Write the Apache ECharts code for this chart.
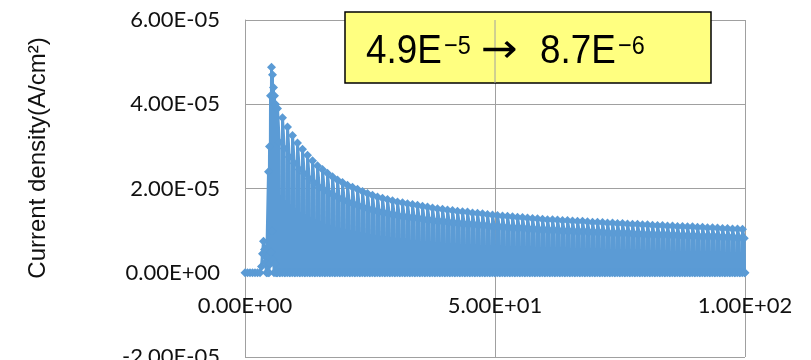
<!DOCTYPE html>
<html><head><meta charset="utf-8">
<script src="https://cdn.jsdelivr.net/npm/echarts@6/dist/echarts.min.js"></script>
<style>html,body{margin:0;padding:0;background:#fff}#c{width:811px;height:360px}</style>
</head><body><div id="c"></div>
<script>
// ---- data (current density values in units of 1e-6 A/cm2) ----
const xTicks = [0, 50, 100];
const yTicks = [-2e-5, 0, 2e-5, 4e-5, 6e-5];
const startTimes  = [0, 0.5, 1, 1.5, 2, 2.5, 3, 3.3, 3.5, 3.7, 3.9, 4.1, 4.3, 4.6, 4.7, 4.8, 4.9, 5.0, 5.1, 5.2, 5.3, 5.4, 5.5, 5.6, 5.7, 5.8, 5.9, 6.0, 6.1, 6.2, 6.3, 6.4];
const startValsE6 = [0, 0, 0, 0, 0, 0, 0, 1.5, 4.5, 7.5, 5.5, 2.5, 0, 0, 24, 0, 30, 2, 42, 5, 48.8, 10, 47, 3, 44, 0, 42, 2, 40, 0, 39, 0];
const cycleSeconds = [7,8,9,10,11,12,13,14,15,16,17,18,19,20,21,22,23,24,25,26,27,28,29,30,31,32,33,34,35,36,37,38,39,40,41,42,43,44,45,46,47,48,49,50,51,52,53,54,55,56,57,58,59,60,61,62,63,64,65,66,67,68,69,70,71,72,73,74,75,76,77,78,79,80,81,82,83,84,85,86,87,88,89,90,91,92,93,94,95,96,97,98,99,100];
const peakE6 = [39.0,36.8,34.6,32.6,30.8,29.3,27.9,26.6,25.4,
  24.5,23.6,22.8,22.0,21.4,20.8,20.3,19.8,19.3,18.8,
  18.4,18.0,17.7,17.4,17.1,16.8,16.6,16.4,16.2,16.0,
  15.8,15.6,15.4,15.2,15.1,14.9,14.8,14.6,14.5,14.4,
  14.2,14.1,14.0,13.8,13.7,13.6,13.5,13.4,13.3,13.2,
  13.1,13.0,12.9,12.8,12.7,12.6,12.6,12.5,12.4,12.4,
  12.3,12.2,12.2,12.1,12.0,12.0,11.9,11.8,11.8,11.7,
  11.7,11.6,11.5,11.5,11.4,11.4,11.3,11.2,11.2,11.1,
  11.1,11.0,11.0,10.9,10.9,10.8,10.8,10.7,10.7,10.6,
  10.5,10.5,10.4,10.4,10.3];
const lowE6 = [31.0,29.5,27.5,26.0,24.5,23.5,22.3,21.3,20.3,
  19.6,18.9,18.2,17.6,17.1,16.6,16.2,15.8,15.4,15.0,
  14.7,14.4,14.2,13.9,13.7,13.4,13.3,13.1,13.0,12.8,
  12.6,12.5,12.3,12.2,12.1,11.9,11.8,11.7,11.6,11.5,
  11.4,11.3,11.2,11.0,11.0,10.9,10.8,10.7,10.6,10.6,
  10.5,10.4,10.3,10.2,10.2,10.1,10.1,10.0,9.9,9.9,
  9.8,9.8,9.8,9.7,9.6,9.6,9.5,9.4,9.4,9.4,
  9.4,9.3,9.2,9.2,9.1,9.1,9.0,9.0,9.0,8.9,
  8.9,8.8,8.8,8.7,8.7,8.6,8.6,8.6,8.6,8.5,
  8.4,8.4,8.3,8.3,8.2];
const yAxisTitle = 'Current density(A/cm²)';
const annotation = ['4.9E', '\u22125', '\u2192', '8.7E', '\u22126'];

// ---- build series data ----
const data = [];
startTimes.forEach((t, i) => data.push([t, startValsE6[i] * 1e-6]));
cycleSeconds.forEach((s, i) => {
  data.push([s - 0.55, 0]);
  data.push([s - 0.5, peakE6[i] * 1e-6]);
  data.push([s - 0.15, lowE6[i] * 1e-6]);
  data.push([s - 0.1, 0]);
  data.push([s, 0]);
});

function sci(v) {
  if (Math.abs(v) < 1e-15) return '0.00E+00';
  let e = Math.floor(Math.log10(Math.abs(v)));
  let m = v / Math.pow(10, e);
  if (Math.abs(m) >= 9.995) { m /= 10; e++; }
  return m.toFixed(2) + 'E' + (e < 0 ? '-' : '+') + String(Math.abs(e)).padStart(2, '0');
}

const FONT = "'Liberation Sans', Arial, sans-serif";
const TICKFONT = "Lato, 'Liberation Sans', sans-serif";
const GRID = '#a0a0a0';
const BLUE = '#5B9BD5';
const chart = echarts.init(document.getElementById('c'), null, {renderer: 'canvas'});
chart.setOption({
  animation: false,
  backgroundColor: '#fff',
  grid: {left: 245, right: 66, top: 20, bottom: 3, containLabel: false, outerBoundsMode: 'none'},
  xAxis: {
    type: 'value', min: xTicks[0], max: xTicks[xTicks.length - 1], interval: xTicks[1] - xTicks[0],
    axisLine: {show: true, onZero: false, lineStyle: {color: GRID, width: 1}},
    axisTick: {show: false},
    splitLine: {show: true, lineStyle: {color: GRID, width: 1}},
    axisLabel: {formatter: sci, fontFamily: TICKFONT, fontSize: 22, color: '#111', margin: 22}
  },
  yAxis: {
    type: 'value', min: yTicks[0], max: yTicks[yTicks.length - 1], interval: yTicks[1] - yTicks[0],
    axisLine: {show: true, lineStyle: {color: GRID, width: 1}},
    axisTick: {show: false},
    splitLine: {show: true, lineStyle: {color: GRID, width: 1}},
    axisLabel: {formatter: sci, fontFamily: TICKFONT, fontSize: 22, color: '#111', margin: 25}
  },
  series: [{
    type: 'line', data: data, symbol: 'diamond', symbolSize: 9,
    itemStyle: {color: BLUE}, lineStyle: {color: BLUE, width: 3},
    z: 3
  }],
  graphic: []
});

// move the x axis (line + labels) up to the zero level of the y axis
const zeroPx = chart.convertToPixel({gridIndex: 0}, [xTicks[0], 0]);
const bottomPx = chart.convertToPixel({gridIndex: 0}, [xTicks[0], yTicks[0]]);
const topPt = chart.convertToPixel({gridIndex: 0}, [xTicks[1], yTicks[yTicks.length - 1]]);
const boxL = 345, boxT = 12, boxW = 366, boxH = 71;
const mainStyle = {fontFamily: FONT, fontSize: 40, fill: '#000', verticalAlign: 'middle', align: 'left'};
const supStyle = {fontFamily: FONT, fontSize: 26, fill: '#000', verticalAlign: 'middle', align: 'left'};
const arrowStyle = {fontFamily: "'DejaVu Sans', sans-serif", fontSize: 40, fill: '#000', verticalAlign: 'middle', align: 'left'};
chart.setOption({
  xAxis: {offset: zeroPx[1] - bottomPx[1]},
  graphic: [
    {type: 'text', x: 38, y: 158, rotation: Math.PI / 2,
     style: {text: yAxisTitle, fontFamily: FONT, fontSize: 24, fill: '#111', align: 'center', verticalAlign: 'middle'}, z: 10},
    {type: 'rect', shape: {x: boxL, y: boxT, width: boxW, height: boxH},
     style: {fill: '#FFFF80', stroke: '#000', lineWidth: 1.5}, z: 10},
    {type: 'line', shape: {x1: topPt[0], y1: topPt[1], x2: topPt[0], y2: boxT + boxH},
     style: {stroke: GRID, lineWidth: 1}, z: 11},
    {type: 'text', x: 366, y: 52, scaleX: 0.92, style: Object.assign({text: annotation[0]}, mainStyle), z: 12},
    {type: 'text', x: 444, y: 47, scaleX: 0.9, style: Object.assign({text: annotation[1]}, supStyle), z: 12},
    {type: 'text', x: 481, y: 52, scaleX: 1.1, style: Object.assign({text: annotation[2]}, arrowStyle), z: 12},
    {type: 'text', x: 540, y: 52, scaleX: 0.92, style: Object.assign({text: annotation[3]}, mainStyle), z: 12},
    {type: 'text', x: 618, y: 47, scaleX: 0.9, style: Object.assign({text: annotation[4]}, supStyle), z: 12}
  ]
});
</script></body></html>
